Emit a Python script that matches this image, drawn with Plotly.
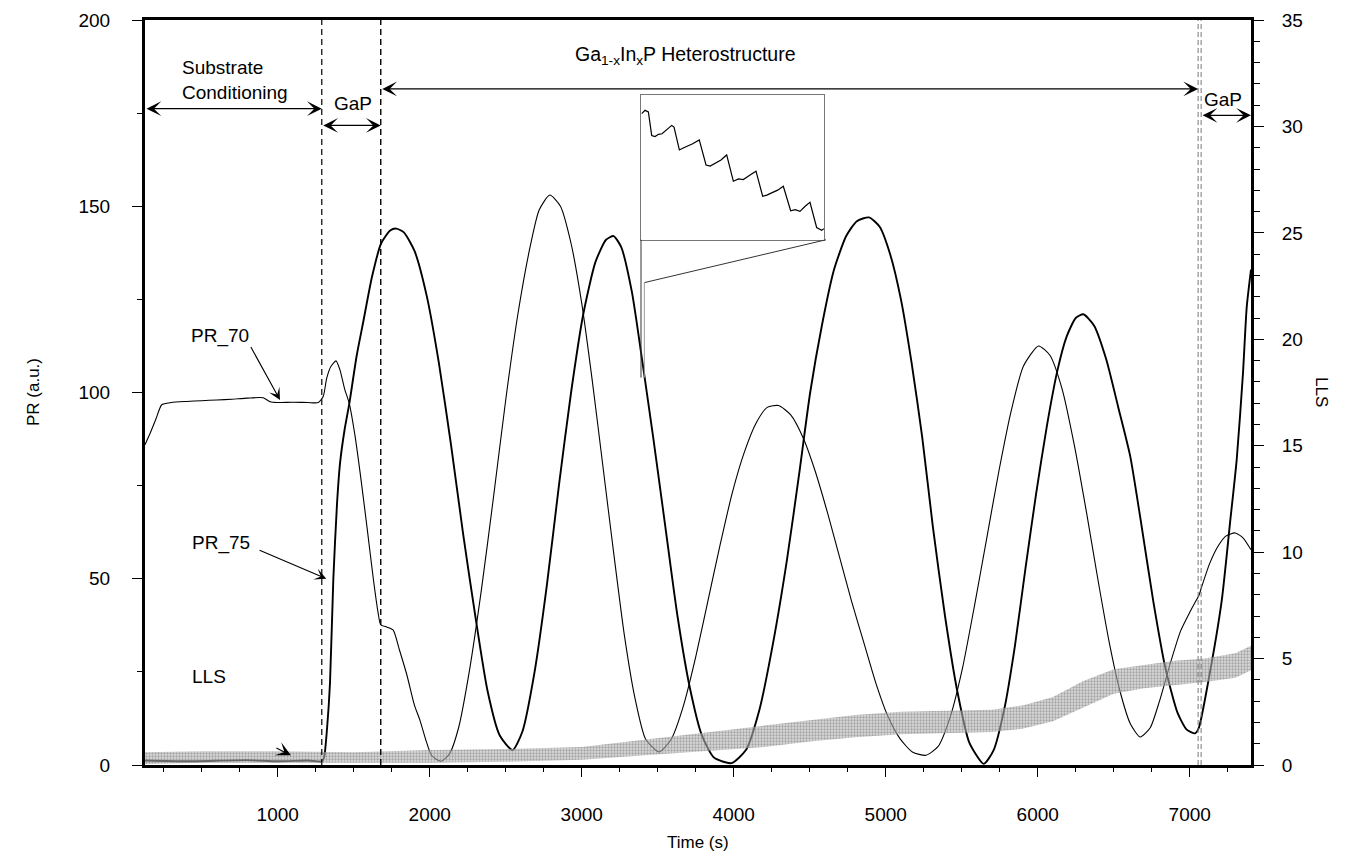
import plotly.graph_objects as go

# ---------------- data ----------------
pr75_t = [127, 400, 800, 1000, 1200, 1290, 1305, 1325, 1344, 1366, 1390, 1410, 1440, 1471, 1520, 1563, 1620,
          1680, 1740, 1780, 1830, 1900, 1980, 2060, 2140, 2220, 2300, 2380, 2460, 2545, 2610, 2690,
          2770, 2850, 2930, 3010, 3090, 3160, 3210, 3260, 3330, 3400, 3470, 3550, 3630, 3710, 3790,
          3870, 3985, 4080, 4170, 4260, 4350, 4430, 4503, 4580, 4660, 4740, 4810, 4890, 4960, 5030,
          5100, 5170, 5240, 5310, 5390, 5470, 5550, 5645, 5710, 5780, 5850, 5920, 5990, 6060, 6130,
          6190, 6250, 6300, 6370, 6450, 6530, 6608, 6680, 6760, 6840, 6920, 6980, 7035, 7060, 7120,
          7210, 7265, 7309, 7350, 7375, 7403]
pr75_v = [1.2, 1.0, 1.3, 1.0, 1.2, 1.0, 2, 10, 22, 50, 70, 81, 90, 97, 110, 119, 131,
          140, 143.5, 144, 143, 138, 126, 108, 86, 62, 40, 20, 8, 4, 9, 25,
          48, 75, 100, 121, 135, 141, 142, 139, 127, 108, 88, 64, 40, 21, 8,
          2, 0.5, 4, 15, 33, 55, 78, 100, 118, 133, 142, 146, 147, 144.5, 137,
          125, 108, 88, 64, 40, 20, 6, 0.3, 4, 15, 32, 53, 73, 91, 106,
          115, 120, 121, 118, 109, 96, 83, 65, 44, 26, 14, 9.5, 8.5, 10, 22,
          44, 65, 82, 105, 123, 133]

pr70_t = [127, 160, 200, 237, 300, 400, 500, 600, 700, 800, 905, 950, 1000, 1100, 1200, 1267, 1300,
          1322, 1350, 1384, 1410, 1440, 1471, 1510, 1550, 1590, 1629, 1660, 1678, 1720, 1760, 1800,
          1849, 1900, 1936, 1980, 2013, 2075, 2130, 2190, 2260, 2340, 2420, 2500, 2580, 2660, 2720,
          2790, 2860, 2930, 3000, 3070, 3140, 3210, 3280, 3350, 3420, 3510, 3590, 3670, 3750, 3830,
          3910, 3990, 4070, 4150, 4220, 4295, 4375, 4455, 4535, 4615, 4695, 4775, 4855, 4935, 5015,
          5095, 5175, 5265, 5345, 5425, 5505, 5585, 5665, 5745, 5825, 5905, 6005, 6080, 6160, 6240,
          6320, 6395, 6470, 6540, 6610, 6674, 6740, 6800, 6870, 6940, 7000, 7040, 7060, 7080, 7130,
          7190, 7240, 7298, 7350, 7403]
pr70_v = [86, 89, 93, 96.7, 97.3, 97.6, 97.8, 98.0, 98.2, 98.5, 98.6, 97.5, 97.3, 97.4, 97.3, 97.3, 99,
          103.8, 107, 108.5, 106, 101, 97, 88, 76, 63, 50, 41, 37.6, 37, 36.2, 31,
          24.3, 16, 12, 6, 2.5, 1, 3, 10, 25, 47, 72, 98, 121, 139, 149,
          153, 150, 140, 124, 103, 80, 57, 35, 18, 7, 3.5, 7, 16, 29, 44,
          59, 73, 84, 92, 96, 96.5, 94, 88, 79, 68, 56, 44, 33, 22, 13,
          7, 3.5, 2.6, 5, 13, 26, 43, 61, 79, 95, 107, 112.5, 110, 101, 86,
          68, 50, 33, 20, 11, 7.5, 10, 17, 27, 36, 41, 44, 45.5, 48, 54,
          59, 61.5, 62.3, 61, 57.8]

lls_t = [127, 500, 1000, 1500, 2000, 2500, 3000, 3300, 3600, 3900, 4200, 4500, 4800, 5100, 5400,
         5700, 5900, 6100, 6300, 6500, 6700, 6900, 7100, 7300, 7403]
lls_lo = [0.05, 0.1, 0.1, 0.1, 0.1, 0.15, 0.25, 0.4, 0.55, 0.7, 0.85, 1.1, 1.3, 1.45, 1.5,
          1.55, 1.7, 2.05, 2.7, 3.35, 3.6, 3.75, 3.9, 4.1, 4.45]
lls_hi = [0.6, 0.65, 0.65, 0.6, 0.7, 0.75, 0.85, 1.1, 1.35, 1.6, 1.85, 2.1, 2.35, 2.5, 2.55,
          2.6, 2.8, 3.2, 3.95, 4.5, 4.7, 4.9, 5.0, 5.25, 5.6]

inset_t = [3390.08, 3390.48, 3390.88, 3391.28, 3391.68, 3392.1, 3392.52, 3393.0, 3393.68, 3393.96,
           3394.6, 3395.0, 3395.48, 3396.2, 3396.99, 3397.8, 3398.3, 3398.88, 3399.6, 3400.28,
           3401.08, 3401.7, 3402.28, 3403.0, 3403.8, 3404.6, 3405.1, 3405.68, 3406.4, 3407.08,
           3407.96, 3408.5, 3409.08, 3409.7, 3410.28, 3411.08, 3411.68, 3411.96]
inset_v = [126.6, 127.2, 126.9, 122.7, 122.5, 122.9, 123.0, 123.6, 124.5, 124.2,
           120.1, 120.4, 120.7, 121.2, 121.9, 117.4, 117.2, 117.7, 118.3, 119.2,
           114.5, 114.9, 114.8, 115.5, 116.3, 111.8, 112.0, 112.4, 112.9, 113.6,
           109.2, 109.4, 109.1, 110.0, 110.7, 106.2, 105.7, 106.0]

x_ticks = [1000, 2000, 3000, 4000, 5000, 6000, 7000]
y_left_ticks = [0, 50, 100, 150, 200]
y_right_ticks = [0, 5, 10, 15, 20, 25, 30, 35]

# phase boundaries (s)
bound_gap_start = 1290
bound_gap_end = 1678
bound_end_a = 7055
bound_end_b = 7075

FONT = "Arial, Liberation Sans, Helvetica, sans-serif"

fig = go.Figure()

# LLS band (right axis), speckled grey texture
fig.add_trace(go.Scatter(x=lls_t, y=lls_lo, yaxis="y2", mode="lines", line=dict(width=0, color="rgba(0,0,0,0)"),
                         showlegend=False, hoverinfo="skip"))
fig.add_trace(go.Scatter(x=lls_t, y=lls_hi, yaxis="y2", mode="lines", line=dict(width=0, color="rgba(0,0,0,0)"),
                         fill="tonexty", fillcolor="rgba(170,170,170,0.55)",
                         fillpattern=dict(shape=".", fgcolor="#6e6e6e", bgcolor="rgba(185,185,185,0.55)",
                                          size=3, solidity=0.45),
                         name="LLS", showlegend=False))

# PR traces
fig.add_trace(go.Scatter(x=pr70_t, y=pr70_v, mode="lines", line=dict(color="black", width=1.1, shape="spline", smoothing=0.6),
                         name="PR_70", showlegend=False))
fig.add_trace(go.Scatter(x=pr75_t, y=pr75_v, mode="lines", line=dict(color="black", width=1.9, shape="spline", smoothing=0.6),
                         name="PR_75", showlegend=False))

# inset
fig.add_trace(go.Scatter(x=inset_t, y=inset_v, xaxis="x3", yaxis="y3", mode="lines",
                         line=dict(color="black", width=1.2), showlegend=False))

shapes = []
for xb, col, dash, w in [(bound_gap_start, "black", "6px,4px", 1.2), (bound_gap_end, "black", "6px,4px", 1.4),
                         (bound_end_a, "#777777", "5px,3px", 1.0), (bound_end_b, "#777777", "5px,3px", 1.0)]:
    shapes.append(dict(type="line", xref="x", yref="paper", x0=xb, x1=xb, y0=0, y1=1,
                       line=dict(color=col, width=w, dash=dash)))

# inset connector lines
conn_x_left = 3390
conn_x_right = 3412
conn_box_bottom = 141.0
conn_box_right_x = 4607
conn_low = 104
conn_mid = 129.5
shapes.append(dict(type="line", xref="x", yref="y", x0=conn_x_left, x1=conn_x_left, y0=conn_box_bottom, y1=conn_low,
                   line=dict(color="#333333", width=1)))
shapes.append(dict(type="line", xref="x", yref="y", x0=conn_box_right_x, x1=conn_x_right, y0=conn_box_bottom, y1=conn_mid,
                   line=dict(color="#333333", width=1)))
shapes.append(dict(type="line", xref="x", yref="y", x0=conn_x_right, x1=conn_x_right, y0=conn_mid, y1=conn_low,
                   line=dict(color="#999999", width=1)))

ann = []
def dbl_arrow(x0, x1, y):
    ann.append(dict(x=x1, y=y, ax=x0, ay=y, xref="x", yref="y", axref="x", ayref="y", text="",
                    showarrow=True, arrowhead=3, startarrowhead=3, arrowside="end+start",
                    arrowsize=1.9, startarrowsize=1.9, arrowwidth=1.3, arrowcolor="black"))

dbl_arrow(127, bound_gap_start, 176.2)
dbl_arrow(bound_gap_start, bound_gap_end, 171.7)
dbl_arrow(bound_gap_end, bound_end_a, 181.5)
dbl_arrow(bound_end_b, 7403, 174.4)

txt = dict(family=FONT, size=19, color="black")
ann.append(dict(x=357, y=183.8, xref="x", yref="y", text="Substrate<br>Conditioning", showarrow=False,
                xanchor="left", align="left", font=txt))
ann.append(dict(x=1497, y=177.6, xref="x", yref="y", text="GaP", showarrow=False, font=txt))
ann.append(dict(x=7222, y=178.6, xref="x", yref="y", text="GaP", showarrow=False, font=txt))
ann.append(dict(x=3680, y=190.5, xref="x", yref="y", text="Ga<sub>1-x</sub>In<sub>x</sub>P Heterostructure",
                showarrow=False, font=dict(family=FONT, size=19.5, color="black")))
ann.append(dict(x=620, y=115.2, xref="x", yref="y", text="PR_70", showarrow=False, font=txt))
ann.append(dict(x=628, y=59.6, xref="x", yref="y", text="PR_75", showarrow=False, font=txt))
ann.append(dict(x=550, y=23.8, xref="x", yref="y", text="LLS", showarrow=False, font=txt))
# pointer arrows
ann.append(dict(x=1015, y=98.0, ax=818, ay=112.6, xref="x", yref="y", axref="x", ayref="y", text="",
                showarrow=True, arrowhead=3, arrowsize=1.8, arrowwidth=1.1, arrowcolor="black"))
ann.append(dict(x=1320, y=50, ax=871, ay=57.8, xref="x", yref="y", axref="x", ayref="y", text="",
                showarrow=True, arrowhead=3, arrowsize=1.8, arrowwidth=1.1, arrowcolor="black"))
ann.append(dict(x=1087, y=2.6, ax=-16, ay=-8, xref="x", yref="y", text="",
                showarrow=True, arrowhead=3, arrowsize=2.2, arrowwidth=1.1, arrowcolor="black"))
# axis titles
title_font = dict(family=FONT, size=17, color="black")
ann.append(dict(x=0.5, y=-0.1195, xref="paper", yref="paper", text="Time (s)", showarrow=False, font=title_font))
ann.append(dict(x=-0.1112, y=0.5, xref="paper", yref="paper", text="PR (a.u.)", showarrow=False, textangle=-90,
                font=title_font))
ann.append(dict(x=1.0741, y=0.5, xref="paper", yref="paper", text="LLS", showarrow=False, textangle=90,
                font=title_font))

tickfont = dict(family=FONT, size=19, color="black")
fig.update_layout(
    width=1353, height=864,
    margin=dict(l=145, r=102, t=10, b=99),
    paper_bgcolor="white", plot_bgcolor="white",
    showlegend=False,
    xaxis=dict(range=[127, 7403], tickvals=x_ticks, ticks="outside", ticklen=9, tickwidth=1.2, tickcolor="black",
               minor=dict(dtick=250, tick0=0, ticks="outside", ticklen=4, tickwidth=1, tickcolor="black"),
               showline=True, linewidth=3, linecolor="black", mirror=True, showgrid=False, zeroline=False,
               tickfont=tickfont, ticklabelstandoff=21),
    yaxis=dict(range=[0, 200], tickvals=y_left_ticks, ticks="outside", ticklen=10, tickwidth=1.2, tickcolor="black",
               minor=dict(dtick=25, tick0=0, ticks="outside", ticklen=5, tickwidth=1, tickcolor="black"),
               showline=True, linewidth=3, linecolor="black", showgrid=False, zeroline=False,
               tickfont=tickfont, ticklabelstandoff=18),
    yaxis2=dict(range=[0, 35], tickvals=y_right_ticks, overlaying="y", side="right", ticks="outside", ticklen=10,
                tickwidth=1.2, tickcolor="black",
                minor=dict(dtick=1, tick0=0, ticks="outside", ticklen=6, tickwidth=1, tickcolor="black"),
                showline=True, linewidth=3, linecolor="black", showgrid=False, zeroline=False,
                tickfont=tickfont, ticklabelstandoff=14),
    xaxis3=dict(domain=[0.4485, 0.6142], anchor="y3", range=[3390, 3412], showline=True, mirror=True,
                linecolor="#777777", linewidth=1, showticklabels=False, ticks="", showgrid=False, zeroline=False),
    yaxis3=dict(domain=[0.705, 0.8997], anchor="x3", range=[104, 130], showline=True, mirror=True,
                linecolor="#777777", linewidth=1, showticklabels=False, ticks="", showgrid=False, zeroline=False),
    shapes=shapes,
    annotations=ann,
)

fig.write_html("out.html", config={"displayModeBar": False},
               post_script="document.body.style.margin='0';document.body.style.overflow='hidden';")
